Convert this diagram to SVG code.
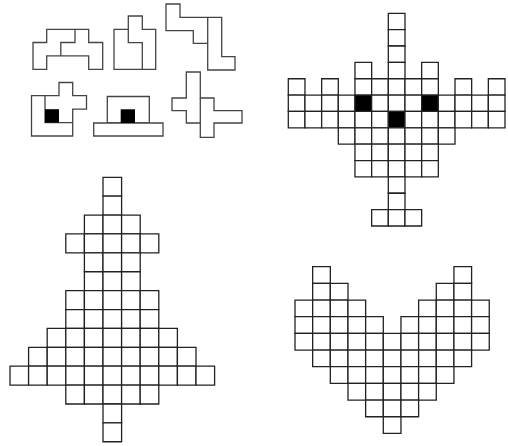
<svg xmlns="http://www.w3.org/2000/svg" width="508" height="446" viewBox="0 0 508 446">
<style>
rect{fill:#fff;stroke:#222;stroke-width:1.3;vector-effect:non-scaling-stroke}
rect.b{fill:#000}
.p{fill:#fff;stroke:#444;stroke-width:1.3;stroke-linejoin:miter}
.i{fill:none;stroke:#444;stroke-width:1.3}
.k{fill:#000}
</style>
<rect x="0" y="0" width="508" height="446" style="stroke:none;fill:#fff"/>
<g id="piece1">
<path class="p" d="M46.7,29.3H88.7V42.5H102.7V69.3H88.7V55.9H46.7V69.3H33V42.5H46.7Z"/>
<path class="i" d="M75,29.3V42.5H60.8V55.9"/>
</g>
<g id="piece2">
<path class="p" d="M128.3,16H142.3V29.3H155.7V69.3H114V29.3H128.3Z"/>
<path class="i" d="M128.3,29.3V42.7H142.3V69.3"/>
</g>
<g id="piece3">
<path class="p" d="M166,4H180V17.3H221.7V56.7H235V70H207.7V43.3H193.3V30.7H166Z"/>
<path class="i" d="M207.7,17.3V43.3"/>
</g>
<g id="piece4">
<path class="p" d="M31.5,95.7H59V82.5H72.7V95.7H86.5V109.2H72.7V136H31.5Z"/>
<path class="i" d="M45,95.7V122.6H72.7"/>
<rect class="b" x="45" y="109.2" width="14" height="13.4" style="stroke:none"/>
</g>
<g id="piece5">
<path class="p" d="M107.3,96.5H149.3V123H107.3Z"/>
<path class="p" d="M93.7,123H163V136H93.7Z"/>
<rect class="b" x="120.7" y="109.3" width="14.3" height="13.7" style="stroke:none"/>
</g>
<g id="piece6">
<path class="p" d="M186.3,72H200.3V98H214V110.7H242V123H214V137.3H200.3V123H186.3V110.7H172V98H186.3Z"/>
<path class="i" d="M200.3,98V123"/>
</g>
<g id="airplane" transform="translate(288.3,13.3) scale(16.67,16.36)">
<rect x="6" y="0" width="1" height="1"/><rect x="6" y="1" width="1" height="1"/><rect x="6" y="2" width="1" height="1"/>
<rect x="4" y="3" width="1" height="1"/><rect x="6" y="3" width="1" height="1"/><rect x="8" y="3" width="1" height="1"/>
<rect x="0" y="4" width="1" height="1"/><rect x="2" y="4" width="1" height="1"/><rect x="4" y="4" width="1" height="1"/><rect x="5" y="4" width="1" height="1"/><rect x="6" y="4" width="1" height="1"/><rect x="7" y="4" width="1" height="1"/><rect x="8" y="4" width="1" height="1"/><rect x="10" y="4" width="1" height="1"/><rect x="12" y="4" width="1" height="1"/>
<rect x="0" y="5" width="1" height="1"/><rect x="1" y="5" width="1" height="1"/><rect x="2" y="5" width="1" height="1"/><rect x="3" y="5" width="1" height="1"/><rect class="b" x="4" y="5" width="1" height="1"/><rect x="5" y="5" width="1" height="1"/><rect x="6" y="5" width="1" height="1"/><rect x="7" y="5" width="1" height="1"/><rect class="b" x="8" y="5" width="1" height="1"/><rect x="9" y="5" width="1" height="1"/><rect x="10" y="5" width="1" height="1"/><rect x="11" y="5" width="1" height="1"/><rect x="12" y="5" width="1" height="1"/>
<rect x="0" y="6" width="1" height="1"/><rect x="1" y="6" width="1" height="1"/><rect x="2" y="6" width="1" height="1"/><rect x="3" y="6" width="1" height="1"/><rect x="4" y="6" width="1" height="1"/><rect x="5" y="6" width="1" height="1"/><rect class="b" x="6" y="6" width="1" height="1"/><rect x="7" y="6" width="1" height="1"/><rect x="8" y="6" width="1" height="1"/><rect x="9" y="6" width="1" height="1"/><rect x="10" y="6" width="1" height="1"/><rect x="11" y="6" width="1" height="1"/><rect x="12" y="6" width="1" height="1"/>
<rect x="3" y="7" width="1" height="1"/><rect x="4" y="7" width="1" height="1"/><rect x="5" y="7" width="1" height="1"/><rect x="6" y="7" width="1" height="1"/><rect x="7" y="7" width="1" height="1"/><rect x="8" y="7" width="1" height="1"/><rect x="9" y="7" width="1" height="1"/>
<rect x="4" y="8" width="1" height="1"/><rect x="5" y="8" width="1" height="1"/><rect x="6" y="8" width="1" height="1"/><rect x="7" y="8" width="1" height="1"/><rect x="8" y="8" width="1" height="1"/>
<rect x="4" y="9" width="1" height="1"/><rect x="5" y="9" width="1" height="1"/><rect x="6" y="9" width="1" height="1"/><rect x="7" y="9" width="1" height="1"/><rect x="8" y="9" width="1" height="1"/>
<rect x="6" y="10" width="1" height="1"/><rect x="6" y="11" width="1" height="1"/>
<rect x="5" y="12" width="1" height="1"/><rect x="6" y="12" width="1" height="1"/><rect x="7" y="12" width="1" height="1"/>
</g>
<g id="tree" transform="translate(10,177.3) scale(18.6,18.89)">
<rect x="5" y="0" width="1" height="1"/><rect x="5" y="1" width="1" height="1"/>
<rect x="4" y="2" width="1" height="1"/><rect x="5" y="2" width="1" height="1"/><rect x="6" y="2" width="1" height="1"/>
<rect x="3" y="3" width="1" height="1"/><rect x="4" y="3" width="1" height="1"/><rect x="5" y="3" width="1" height="1"/><rect x="6" y="3" width="1" height="1"/><rect x="7" y="3" width="1" height="1"/>
<rect x="4" y="4" width="1" height="1"/><rect x="5" y="4" width="1" height="1"/><rect x="6" y="4" width="1" height="1"/>
<rect x="4" y="5" width="1" height="1"/><rect x="5" y="5" width="1" height="1"/><rect x="6" y="5" width="1" height="1"/>
<rect x="3" y="6" width="1" height="1"/><rect x="4" y="6" width="1" height="1"/><rect x="5" y="6" width="1" height="1"/><rect x="6" y="6" width="1" height="1"/><rect x="7" y="6" width="1" height="1"/>
<rect x="3" y="7" width="1" height="1"/><rect x="4" y="7" width="1" height="1"/><rect x="5" y="7" width="1" height="1"/><rect x="6" y="7" width="1" height="1"/><rect x="7" y="7" width="1" height="1"/>
<rect x="2" y="8" width="1" height="1"/><rect x="3" y="8" width="1" height="1"/><rect x="4" y="8" width="1" height="1"/><rect x="5" y="8" width="1" height="1"/><rect x="6" y="8" width="1" height="1"/><rect x="7" y="8" width="1" height="1"/><rect x="8" y="8" width="1" height="1"/>
<rect x="1" y="9" width="1" height="1"/><rect x="2" y="9" width="1" height="1"/><rect x="3" y="9" width="1" height="1"/><rect x="4" y="9" width="1" height="1"/><rect x="5" y="9" width="1" height="1"/><rect x="6" y="9" width="1" height="1"/><rect x="7" y="9" width="1" height="1"/><rect x="8" y="9" width="1" height="1"/><rect x="9" y="9" width="1" height="1"/>
<rect x="0" y="10" width="1" height="1"/><rect x="1" y="10" width="1" height="1"/><rect x="2" y="10" width="1" height="1"/><rect x="3" y="10" width="1" height="1"/><rect x="4" y="10" width="1" height="1"/><rect x="5" y="10" width="1" height="1"/><rect x="6" y="10" width="1" height="1"/><rect x="7" y="10" width="1" height="1"/><rect x="8" y="10" width="1" height="1"/><rect x="9" y="10" width="1" height="1"/><rect x="10" y="10" width="1" height="1"/>
<rect x="3" y="11" width="1" height="1"/><rect x="4" y="11" width="1" height="1"/><rect x="5" y="11" width="1" height="1"/><rect x="6" y="11" width="1" height="1"/><rect x="7" y="11" width="1" height="1"/>
<rect x="5" y="12" width="1" height="1"/><rect x="5" y="13" width="1" height="1"/>
</g>
<g id="heart" transform="translate(295,266.7) scale(17.66,16.67)">
<rect x="1" y="0" width="1" height="1"/><rect x="9" y="0" width="1" height="1"/>
<rect x="1" y="1" width="1" height="1"/><rect x="2" y="1" width="1" height="1"/><rect x="8" y="1" width="1" height="1"/><rect x="9" y="1" width="1" height="1"/>
<rect x="0" y="2" width="1" height="1"/><rect x="1" y="2" width="1" height="1"/><rect x="2" y="2" width="1" height="1"/><rect x="3" y="2" width="1" height="1"/><rect x="7" y="2" width="1" height="1"/><rect x="8" y="2" width="1" height="1"/><rect x="9" y="2" width="1" height="1"/><rect x="10" y="2" width="1" height="1"/>
<rect x="0" y="3" width="1" height="1"/><rect x="1" y="3" width="1" height="1"/><rect x="2" y="3" width="1" height="1"/><rect x="3" y="3" width="1" height="1"/><rect x="4" y="3" width="1" height="1"/><rect x="6" y="3" width="1" height="1"/><rect x="7" y="3" width="1" height="1"/><rect x="8" y="3" width="1" height="1"/><rect x="9" y="3" width="1" height="1"/><rect x="10" y="3" width="1" height="1"/>
<rect x="0" y="4" width="1" height="1"/><rect x="1" y="4" width="1" height="1"/><rect x="2" y="4" width="1" height="1"/><rect x="3" y="4" width="1" height="1"/><rect x="4" y="4" width="1" height="1"/><rect x="5" y="4" width="1" height="1"/><rect x="6" y="4" width="1" height="1"/><rect x="7" y="4" width="1" height="1"/><rect x="8" y="4" width="1" height="1"/><rect x="9" y="4" width="1" height="1"/><rect x="10" y="4" width="1" height="1"/>
<rect x="1" y="5" width="1" height="1"/><rect x="2" y="5" width="1" height="1"/><rect x="3" y="5" width="1" height="1"/><rect x="4" y="5" width="1" height="1"/><rect x="5" y="5" width="1" height="1"/><rect x="6" y="5" width="1" height="1"/><rect x="7" y="5" width="1" height="1"/><rect x="8" y="5" width="1" height="1"/><rect x="9" y="5" width="1" height="1"/>
<rect x="2" y="6" width="1" height="1"/><rect x="3" y="6" width="1" height="1"/><rect x="4" y="6" width="1" height="1"/><rect x="5" y="6" width="1" height="1"/><rect x="6" y="6" width="1" height="1"/><rect x="7" y="6" width="1" height="1"/><rect x="8" y="6" width="1" height="1"/>
<rect x="3" y="7" width="1" height="1"/><rect x="4" y="7" width="1" height="1"/><rect x="5" y="7" width="1" height="1"/><rect x="6" y="7" width="1" height="1"/><rect x="7" y="7" width="1" height="1"/>
<rect x="4" y="8" width="1" height="1"/><rect x="5" y="8" width="1" height="1"/><rect x="6" y="8" width="1" height="1"/>
<rect x="5" y="9" width="1" height="1"/>
</g>
</svg>
